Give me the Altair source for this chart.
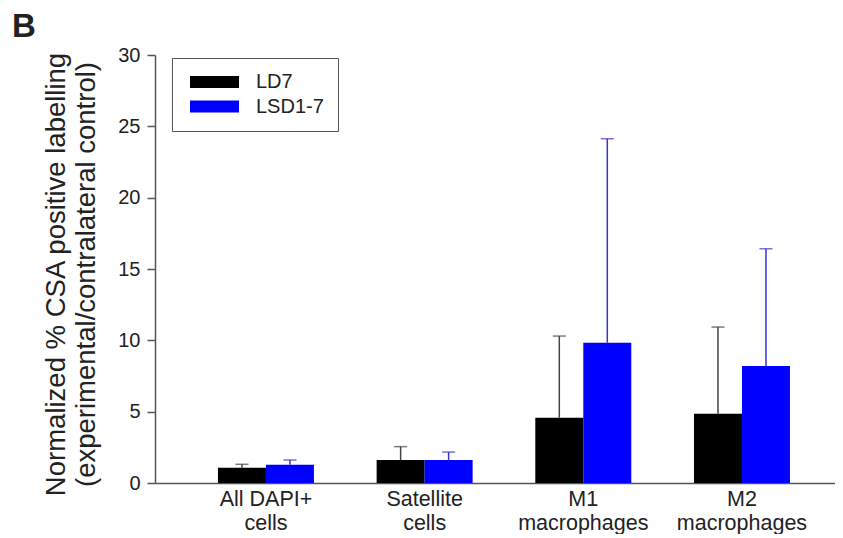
import altair as alt
import pandas as pd

categories = ["All DAPI+\ncells", "Satellite\ncells", "M1\nmacrophages", "M2\nmacrophages"]
series = ["LD7", "LSD1-7"]
ld7_mean = [1.07, 1.61, 4.58, 4.86]
ld7_sd = [0.24, 0.94, 5.72, 6.07]
lsd_mean = [1.28, 1.61, 9.83, 8.20]
lsd_sd = [0.33, 0.56, 14.30, 8.22]
y_ticks = [0, 5, 10, 15, 20, 25, 30]
y_title = ["Normalized % CSA positive labelling", "(experimental/contralateral control)"]
panel_label = ["B"]

rows = []
for i, c in enumerate(categories):
    rows.append(dict(cat=c, group=series[0], mean=ld7_mean[i], top=ld7_mean[i] + ld7_sd[i]))
    rows.append(dict(cat=c, group=series[1], mean=lsd_mean[i], top=lsd_mean[i] + lsd_sd[i]))
df = pd.DataFrame(rows)

FONT = "Liberation Sans, Arial, sans-serif"

x_enc = alt.X(
    "cat:N",
    sort=categories,
    scale=alt.Scale(paddingInner=0.395, paddingOuter=0.3403, align=0.583),
    axis=alt.Axis(
        title=None, labelAngle=0, ticks=False, tickSize=0,
        labelExpr="split(datum.label, '\\n')",
        labelFontSize=21.5, labelLineHeight=24, labelPadding=5,
        labelColor="#222", domainColor="#555", domainWidth=1.5,
        labelFont=FONT, labelBaseline="top",
    ),
)
xo_enc = alt.XOffset("group:N", sort=series, scale=alt.Scale(paddingInner=0, paddingOuter=0))

y_axis = alt.Axis(
    values=y_ticks, tickSize=8, grid=False,
    title=y_title, titleX=-91, titleY=219, titleAngle=270, titleAlign="center",
    titleBaseline="alphabetic", titleFontSize=27.5, titleLineHeight=30,
    titleFontWeight="normal", titleColor="#222", titleFont=FONT,
    domainColor="#555", tickColor="#555", domainWidth=1.5, tickWidth=1.5,
    labelFontSize=20, labelPadding=7, labelColor="#222", labelFont=FONT,
)

base = alt.Chart(df)

bars = base.mark_bar().encode(
    x=x_enc,
    xOffset=xo_enc,
    y=alt.Y("mean:Q", scale=alt.Scale(domain=[0, 30], nice=False), axis=y_axis),
    color=alt.Color(
        "group:N", sort=series,
        scale=alt.Scale(domain=series, range=["#000000", "#0000ff"]),
        legend=alt.Legend(
            title=None, orient="none", legendX=17, legendY=3, padding=14,
            strokeColor="#555", fillColor="white",
            symbolType="M-1,-1H7.17V1H-1Z", symbolSize=144, symbolStrokeWidth=0,
            labelOffset=50, labelFontSize=20, labelColor="#222", labelFont=FONT,
            rowPadding=4.5,
        ),
    ),
)

err_color = alt.Color(
    "group:N", sort=series,
    scale=alt.Scale(domain=series, range=["#444444", "#3535d5"]),
    legend=None,
)

rules = base.mark_rule(strokeWidth=1.5).encode(
    x=x_enc, xOffset=xo_enc,
    y=alt.Y("mean:Q"), y2=alt.Y2("top:Q"),
    color=err_color,
)
caps = base.mark_tick(size=13, thickness=1.5).encode(
    x=x_enc, xOffset=xo_enc,
    y=alt.Y("top:Q"),
    color=err_color,
)

label = alt.Chart(pd.DataFrame({"t": panel_label})).mark_text(
    align="left", baseline="alphabetic", fontSize=33, fontWeight="bold",
    font=FONT, color="#222",
).encode(x=alt.value(-143), y=alt.value(-18), text="t:N")

chart = alt.layer(bars, rules, caps, label).resolve_scale(color="independent").properties(
    width=680, height=428,
    autosize=alt.AutoSizeParams(type="none"),
    padding={"left": 147, "top": 47, "right": 0, "bottom": 51},
).configure_view(stroke=None)

chart.save("out.html", embed_options={"renderer": "svg", "actions": False})
